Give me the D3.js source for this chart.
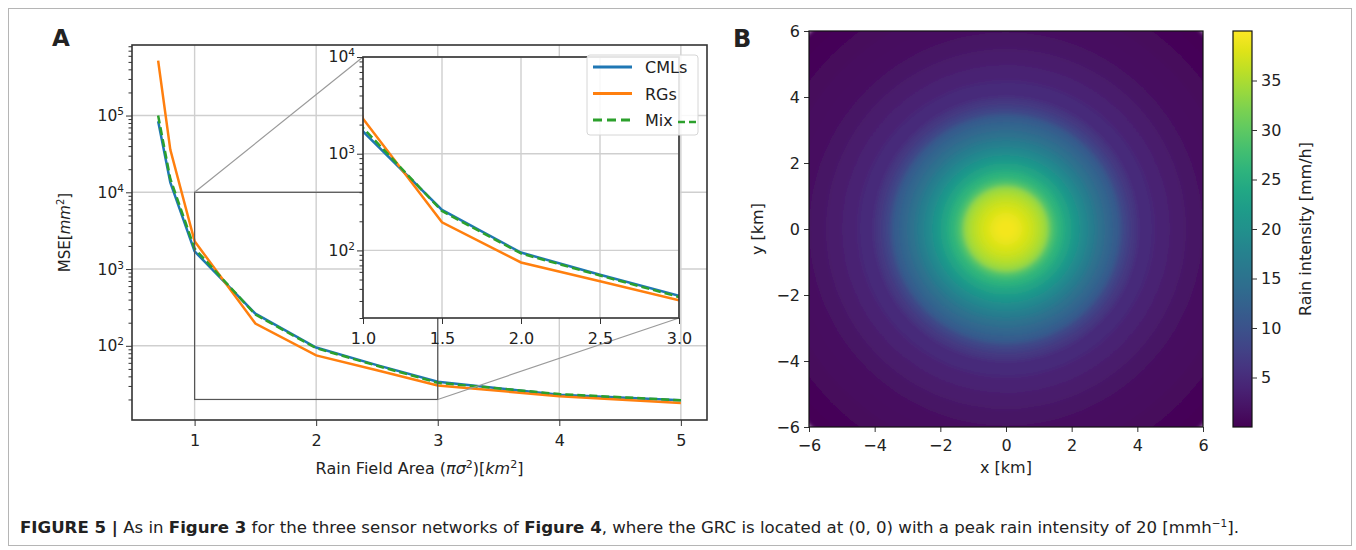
<!DOCTYPE html>
<html>
<head>
<meta charset="utf-8">
<script src="https://cdn.jsdelivr.net/npm/d3@7"></script>
<style>
  body { margin: 0; background: #fff; }
  text { font-family: "DejaVu Sans", sans-serif; fill: #222; }
</style>
</head>
<body>
<svg id="fig"></svg>
<script>
// ---- panel A data ----
const areas   = [0.7, 0.8, 1.0, 1.5, 2.0, 2.5, 3.0, 4.0, 5.0];
const mseCML  = [8.4e4, 1.35e4, 1700, 262, 95, 56, 34, 23, 19.5];
const mseRG   = [5.2e5, 3.6e4, 2300, 195, 75, 48, 30.5, 22, 18];
const mseMix  = [1.0e5, 1.5e4, 1850, 255, 93, 55, 33, 23.5, 19.5];
const seriesNames  = ["CMLs", "RGs", "Mix"];
const seriesColors = ["#1f77b4", "#ff7f0e", "#2ca02c"];
const xTicksA      = [1, 2, 3, 4, 5];
const yTicksA      = [1e2, 1e3, 1e4, 1e5];
const xTicksInset  = [1.0, 1.5, 2.0, 2.5, 3.0];
const yTicksInset  = [1e2, 1e3, 1e4];

// ---- panel B data: rain rings, outer radius (km) and intensity (mm/h) ----
const ringRadius = [8.5, 8.0, 7.5, 7.0, 6.5, 6.0, 5.5, 5.0, 4.5, 4.0, 3.75, 3.5, 3.25, 3.0, 2.75, 2.5, 2.25, 2.0, 1.75, 1.5, 1.3, 1.1, 0.9, 0.7, 0.5, 0.3];
const ringValue  = [0.3, 0.5, 0.8, 1.1, 1.5, 2.0, 2.7, 3.6, 4.8, 6.4, 8.0, 11.5, 13.0, 14.8, 16.8, 18.8, 21.0, 23.5, 26.0, 28.8, 34.0, 35.5, 36.8, 37.8, 38.6, 39.3];
const xyTicksB   = [-6, -4, -2, 0, 2, 4, 6];
const cbTicks    = [5, 10, 15, 20, 25, 30, 35];

const W = 1356, H = 550;
const svg = d3.select("#fig").attr("width", W).attr("height", H);
const defs = svg.append("defs");

// figure frame
svg.append("rect").attr("x", 8.5).attr("y", 8.5).attr("width", 1343).attr("height", 537)
  .attr("fill", "none").attr("stroke", "#b5b5b5");

const minus = s => String(s).replace("-", "\u2212");

// ================= panel A =================
const A = { x0: 132, x1: 707, y0: 45, y1: 420 };
const xM = d3.scaleLinear().domain([0.485, 5.215]).range([A.x0, A.x1]);
const yM = d3.scaleLog().domain([10.8, 8.3e5]).range([A.y1, A.y0]);

const series = [mseCML, mseRG, mseMix];
const gA = svg.append("g");

defs.append("clipPath").attr("id", "clipA")
  .append("rect").attr("x", A.x0).attr("y", A.y0).attr("width", A.x1 - A.x0).attr("height", A.y1 - A.y0);

// grid
gA.selectAll(".gx").data(xTicksA).join("line")
  .attr("x1", d => xM(d)).attr("x2", d => xM(d)).attr("y1", A.y0).attr("y2", A.y1)
  .attr("stroke", "#cfcfcf").attr("stroke-width", 1.4);
gA.selectAll(".gy").data(yTicksA).join("line")
  .attr("x1", A.x0).attr("x2", A.x1).attr("y1", d => yM(d)).attr("y2", d => yM(d))
  .attr("stroke", "#cfcfcf").attr("stroke-width", 1.4);

const lineM = d3.line().x((d, i) => xM(areas[i])).y(d => yM(d));
const curvesA = gA.append("g").attr("clip-path", "url(#clipA)");
series.forEach((s, k) => {
  curvesA.append("path").attr("d", lineM(s)).attr("fill", "none")
    .attr("stroke", seriesColors[k]).attr("stroke-width", 2.5)
    .attr("stroke-dasharray", k === 2 ? "8,4" : null);
});

// inset mark
const I = { x0: 363, x1: 679, y0: 57, y1: 318 };
gA.append("rect")
  .attr("x", xM(1)).attr("y", yM(1e4)).attr("width", xM(3) - xM(1)).attr("height", yM(20) - yM(1e4))
  .attr("fill", "none").attr("stroke", "#555").attr("stroke-width", 1.2);
gA.append("line").attr("x1", xM(1)).attr("y1", yM(1e4)).attr("x2", I.x0).attr("y2", I.y0)
  .attr("stroke", "#9a9a9a").attr("stroke-width", 1.2);
gA.append("line").attr("x1", xM(3)).attr("y1", yM(20)).attr("x2", I.x1).attr("y2", I.y1)
  .attr("stroke", "#9a9a9a").attr("stroke-width", 1.2);

// axes of main
const axTick = (g) => { g.select(".domain").remove(); g.selectAll("line").attr("stroke", "#333"); };
gA.append("g").attr("transform", `translate(${A.x0},0)`)
  .call(d3.axisLeft(yM).tickValues(yM.ticks().filter(v => !yTicksA.includes(v))).tickSize(3.5).tickFormat(""))
  .call(axTick);
const gyA = gA.append("g").attr("transform", `translate(${A.x0},0)`)
  .call(d3.axisLeft(yM).tickValues(yTicksA).tickSize(6).tickFormat("")).call(axTick);
gyA.selectAll(".tick").append("text").attr("x", -8).attr("dy", "0.32em")
  .attr("text-anchor", "end").attr("font-size", 15.5)
  .each(function (d) {
    const t = d3.select(this);
    t.append("tspan").text("10");
    t.append("tspan").attr("dy", -6).attr("font-size", 10.5).text(Math.round(Math.log10(d)));
  });
const gxA = gA.append("g").attr("transform", `translate(0,${A.y1})`)
  .call(d3.axisBottom(xM).tickValues(xTicksA).tickSize(6).tickFormat(d3.format("d"))).call(axTick);
gxA.selectAll("text").attr("font-size", 16).attr("fill", "#222").attr("dy", "1.05em");

gA.append("rect").attr("x", A.x0).attr("y", A.y0).attr("width", A.x1 - A.x0).attr("height", A.y1 - A.y0)
  .attr("fill", "none").attr("stroke", "#333").attr("stroke-width", 1.6);

// axis labels
const xl = gA.append("text").attr("x", (A.x0 + A.x1) / 2).attr("y", 474).attr("text-anchor", "middle").attr("font-size", 16);
xl.append("tspan").text("Rain Field Area (");
xl.append("tspan").attr("font-style", "italic").text("πσ");
xl.append("tspan").attr("dy", -6).attr("font-size", 11).text("2");
xl.append("tspan").attr("dy", 6).text(")[");
xl.append("tspan").attr("font-style", "italic").text("km");
xl.append("tspan").attr("dy", -6).attr("font-size", 11).text("2");
xl.append("tspan").attr("dy", 6).text("]");

const yl = gA.append("text").attr("transform", `translate(70,${(A.y0 + A.y1) / 2}) rotate(-90)`)
  .attr("text-anchor", "middle").attr("font-size", 15);
yl.append("tspan").text("MSE[");
yl.append("tspan").attr("font-style", "italic").text("mm");
yl.append("tspan").attr("dy", -6).attr("font-size", 10).text("2");
yl.append("tspan").attr("dy", 6).text("]");

// ---- inset ----
const xI = d3.scaleLinear().domain([1, 3]).range([I.x0, I.x1]);
const yI = d3.scaleLog().domain([20, 1e4]).range([I.y1, I.y0]);
defs.append("clipPath").attr("id", "clipI")
  .append("rect").attr("x", I.x0).attr("y", I.y0).attr("width", I.x1 - I.x0).attr("height", I.y1 - I.y0);
const gI = svg.append("g");
gI.append("rect").attr("x", I.x0).attr("y", I.y0).attr("width", I.x1 - I.x0).attr("height", I.y1 - I.y0).attr("fill", "#fff");
gI.selectAll(".gx").data(xTicksInset).join("line")
  .attr("x1", d => xI(d)).attr("x2", d => xI(d)).attr("y1", I.y0).attr("y2", I.y1)
  .attr("stroke", "#cfcfcf").attr("stroke-width", 1.4);
gI.selectAll(".gy").data(yTicksInset).join("line")
  .attr("x1", I.x0).attr("x2", I.x1).attr("y1", d => yI(d)).attr("y2", d => yI(d))
  .attr("stroke", "#cfcfcf").attr("stroke-width", 1.4);
const lineI = d3.line().x((d, i) => xI(areas[i])).y(d => yI(d));
const curvesI = gI.append("g").attr("clip-path", "url(#clipI)");
series.forEach((s, k) => {
  curvesI.append("path").attr("d", lineI(s)).attr("fill", "none")
    .attr("stroke", seriesColors[k]).attr("stroke-width", 2.5)
    .attr("stroke-dasharray", k === 2 ? "8,4" : null);
});
gI.append("g").attr("transform", `translate(${I.x0},0)`)
  .call(d3.axisLeft(yI).tickValues(yI.ticks().filter(v => !yTicksInset.includes(v))).tickSize(3.5).tickFormat(""))
  .call(axTick);
const gyI = gI.append("g").attr("transform", `translate(${I.x0},0)`)
  .call(d3.axisLeft(yI).tickValues(yTicksInset).tickSize(6).tickFormat("")).call(axTick);
gyI.selectAll(".tick").append("text").attr("x", -8).attr("dy", "0.32em")
  .attr("text-anchor", "end").attr("font-size", 15.5)
  .each(function (d) {
    const t = d3.select(this);
    t.append("tspan").text("10");
    t.append("tspan").attr("dy", -6).attr("font-size", 10.5).text(Math.round(Math.log10(d)));
  });
const gxI = gI.append("g").attr("transform", `translate(0,${I.y1})`)
  .call(d3.axisBottom(xI).tickValues(xTicksInset).tickSize(6).tickFormat(d3.format(".1f"))).call(axTick);
gxI.selectAll("text").attr("font-size", 16).attr("fill", "#222").attr("dy", "1.05em");
gI.append("rect").attr("x", I.x0).attr("y", I.y0).attr("width", I.x1 - I.x0).attr("height", I.y1 - I.y0)
  .attr("fill", "none").attr("stroke", "#333").attr("stroke-width", 1.6);

// ---- legend ----
const L = { x: A.x1 - 120, y: A.y0 + 10, w: 111, h: 80 };
const gL = svg.append("g");
gL.append("rect").attr("x", L.x).attr("y", L.y).attr("width", L.w).attr("height", L.h).attr("rx", 3)
  .attr("fill", "#fff").attr("fill-opacity", 0.85).attr("stroke", "#d6d6d6");
seriesNames.forEach((n, k) => {
  const yy = L.y + 12 + k * 26.5;
  gL.append("line").attr("x1", L.x + 6).attr("x2", L.x + 45).attr("y1", yy).attr("y2", yy)
    .attr("stroke", seriesColors[k]).attr("stroke-width", 3)
    .attr("stroke-dasharray", k === 2 ? "9,5" : null);
  gL.append("text").attr("x", L.x + 58).attr("y", yy + 6).attr("font-size", 16).text(n);
  if (k === 2) {
    gL.append("line").attr("x1", L.x + 91).attr("x2", L.x + L.w).attr("y1", yy + 2).attr("y2", yy + 2)
      .attr("stroke", seriesColors[k]).attr("stroke-width", 2.5).attr("stroke-dasharray", "7,4");
  }
});

svg.append("text").attr("x", 52).attr("y", 46).attr("font-family", "Liberation Sans, Arial, sans-serif")
  .attr("font-weight", "bold").attr("font-size", 23).attr("fill", "#111").text("A");

// ================= panel B =================
const B = { x0: 809, x1: 1203, y0: 31, y1: 427 };
const xB = d3.scaleLinear().domain([-6, 6]).range([B.x0, B.x1]);
const yB = d3.scaleLinear().domain([-6, 6]).range([B.y1, B.y0]);
const color = d3.scaleSequential(d3.interpolateViridis).domain([0, 40]);

defs.append("clipPath").attr("id", "clipB")
  .append("rect").attr("x", B.x0).attr("y", B.y0).attr("width", B.x1 - B.x0).attr("height", B.y1 - B.y0);
const soft = defs.append("filter").attr("id", "soft")
  .attr("x", "-10%").attr("y", "-10%").attr("width", "120%").attr("height", "120%");
soft.append("feGaussianBlur").attr("stdDeviation", 2.6);
const gB = svg.append("g");
gB.append("g").attr("clip-path", "url(#clipB)")
  .append("g").attr("filter", "url(#soft)")
  .selectAll("circle").data(ringRadius).join("circle")
  .attr("cx", xB(0)).attr("cy", yB(0))
  .attr("r", d => xB(d) - xB(0))
  .attr("fill", (d, i) => color(ringValue[i]));

const gxB = gB.append("g").attr("transform", `translate(0,${B.y1})`)
  .call(d3.axisBottom(xB).tickValues(xyTicksB).tickSize(5).tickFormat(minus)).call(axTick);
gxB.selectAll("text").attr("font-size", 16).attr("fill", "#222").attr("dy", "1.0em");
const gyB = gB.append("g").attr("transform", `translate(${B.x0},0)`)
  .call(d3.axisLeft(yB).tickValues(xyTicksB).tickSize(5).tickFormat(minus)).call(axTick);
gyB.selectAll("text").attr("font-size", 16).attr("fill", "#222").attr("x", -9);
gB.append("rect").attr("x", B.x0).attr("y", B.y0).attr("width", B.x1 - B.x0).attr("height", B.y1 - B.y0)
  .attr("fill", "none").attr("stroke", "#111").attr("stroke-width", 1.2);

gB.append("text").attr("x", (B.x0 + B.x1) / 2).attr("y", 473).attr("text-anchor", "middle")
  .attr("font-size", 16).text("x  [km]");
gB.append("text").attr("transform", `translate(763,${(B.y0 + B.y1) / 2}) rotate(-90)`)
  .attr("text-anchor", "middle").attr("font-size", 16).text("y  [km]");

// colorbar
const C = { x0: 1233, x1: 1252 };
const yC = d3.scaleLinear().domain([0, 40]).range([B.y1, B.y0]);
const grad = defs.append("linearGradient").attr("id", "viridis")
  .attr("x1", 0).attr("y1", 1).attr("x2", 0).attr("y2", 0);
grad.selectAll("stop").data(d3.range(0, 1.0001, 0.05)).join("stop")
  .attr("offset", d => d).attr("stop-color", d => d3.interpolateViridis(d));
gB.append("rect").attr("x", C.x0).attr("y", B.y0).attr("width", C.x1 - C.x0).attr("height", B.y1 - B.y0)
  .attr("fill", "url(#viridis)").attr("stroke", "#111").attr("stroke-width", 1.2);
const gC = gB.append("g").attr("transform", `translate(${C.x1},0)`)
  .call(d3.axisRight(yC).tickValues(cbTicks).tickSize(5)).call(axTick);
gC.selectAll("text").attr("font-size", 16).attr("fill", "#222").attr("x", 9);
gB.append("text").attr("transform", `translate(1311,${(B.y0 + B.y1) / 2}) rotate(-90)`)
  .attr("text-anchor", "middle").attr("font-size", 16).text("Rain intensity  [mm/h]");

svg.append("text").attr("x", 733).attr("y", 47).attr("font-family", "Liberation Sans, Arial, sans-serif")
  .attr("font-weight", "bold").attr("font-size", 24).attr("fill", "#111").text("B");

// ================= caption =================
const cap = svg.append("text").attr("x", 20).attr("y", 533)
  .attr("font-family", "Liberation Sans, Arial, sans-serif").attr("font-size", 16.6).attr("fill", "#222");
const parts = [
  ["FIGURE 5 |", true], [" As in ", false], ["Figure 3", true],
  [" for the three sensor networks of ", false], ["Figure 4", true],
  [", where the GRC is located at (0, 0) with a peak rain intensity of 20 [mmh", false]
];
parts.forEach(([t, b]) => cap.append("tspan").attr("font-weight", b ? "bold" : null).text(t));
cap.append("tspan").attr("dy", -6).attr("font-size", 10.5).text("\u22121");
cap.append("tspan").attr("dy", 6).text("].");
</script>
</body>
</html>
